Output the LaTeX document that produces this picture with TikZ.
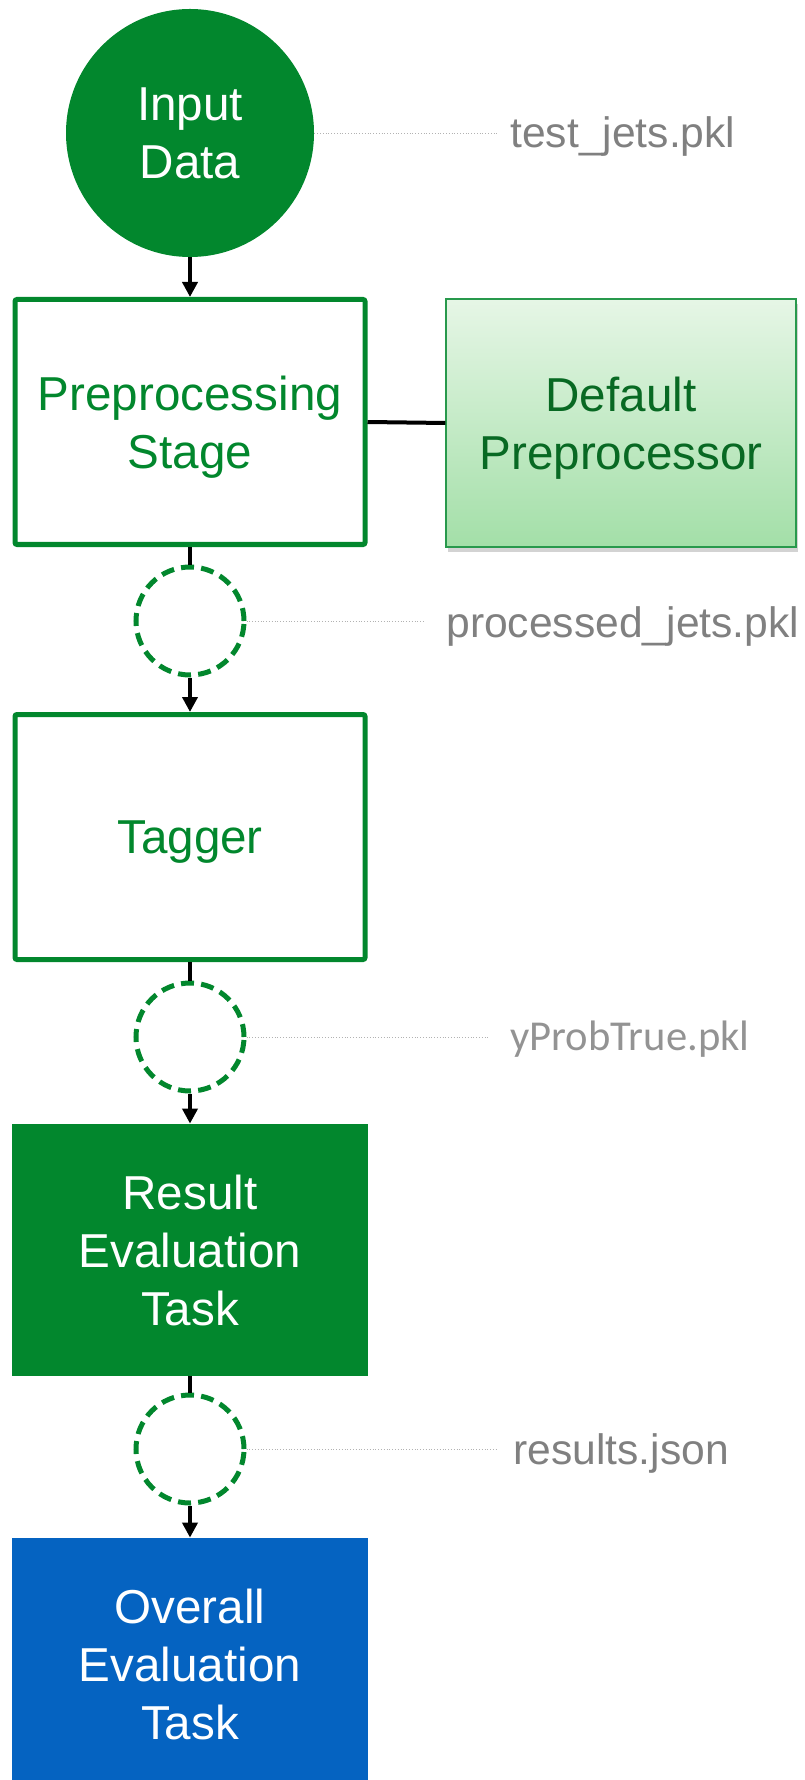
\documentclass[tikz,border=0pt]{standalone}
\usepackage{fontspec}
\setmainfont{Liberation Sans}
\newfontfamily\calfont{Carlito}
\usetikzlibrary{arrows.meta,shadows,positioning}

\definecolor{taskgreen}{RGB}{2,135,45}
\definecolor{taskblue}{RGB}{5,99,193}
\definecolor{darkgreen}{RGB}{8,105,35}
\definecolor{lightgreen}{RGB}{230,246,230}
\definecolor{midgreen}{RGB}{163,223,168}
\definecolor{filegray}{RGB}{128,128,128}

\tikzset{
  bigtext/.style={font=\fontsize{23.8}{29}\selectfont, align=center, text depth=0pt},
  stage/.style={bigtext, draw=taskgreen, line width=2.5pt, rounded corners=1pt, text=taskgreen, minimum width=175pt, minimum height=122.5pt, inner sep=0pt},
  task/.style={bigtext, fill=#1, text=white, minimum width=178pt, minimum height=126pt, inner sep=0pt},
  datafile/.style={circle, draw=taskgreen, line width=2.5pt, dash pattern=on 6.5pt off 3.6pt, minimum size=54pt, inner sep=0pt},
  filename/.style={font=\fontsize{21.3}{25}\selectfont, text=filegray, inner sep=0pt, anchor=base west},
  flow/.style={line width=2pt, -{Triangle[width=7.5pt,length=7.5pt]}},
  link/.style={line width=2pt},
  leader/.style={draw=gray!60, line width=0.4pt, densely dotted}
}

\begin{document}
\begin{tikzpicture}[x=0.5pt, y=-0.5pt]
    \useasboundingbox (0,0) rectangle (804,1780);

    % Input
    \node[circle, fill=taskgreen, text=white, bigtext, minimum size=124pt, inner sep=0pt] (input) at (190,133) {Input\\Data};

    % Stages
    \node[stage] (prep) at (190,422) {Preprocessing\\Stage};
    \node[bigtext, top color=lightgreen, bottom color=midgreen, draw=taskgreen!85, line width=0.6pt, text=darkgreen,
          minimum width=175pt, minimum height=124pt, inner sep=0pt,
          drop shadow={shadow xshift=1pt, shadow yshift=-2.5pt, opacity=0.35}] (defprep) at (621,423) {Default\\Preprocessor};
    \node[stage] (tagger) at (190,837) {Tagger};
    \node[task=taskgreen] (result) at (190,1250) {Result\\Evaluation\\Task};
    \node[task=taskblue] (overall) at (190,1664) {Overall\\Evaluation\\Task};

    % Files
    \node[datafile] (procfile) at (190,621) {};
    \node[datafile] (probfile) at (190,1037) {};
    \node[datafile] (resfile) at (190,1449) {};

    % File names
    \node[filename] (testlbl) at (510,148) {test\_jets.pkl};
    \node[filename] (proclbl) at (446,637) {processed\_jets.pkl};
    \node[filename, font=\calfont\fontsize{21.3}{25}\selectfont, text=filegray!85] (problbl) at (510,1050) {yProbTrue.pkl};
    \node[filename] (reslbl) at (513,1464) {results.json};

    \coordinate (testend) at (498,133);
    \coordinate (procend) at (423,621);
    \coordinate (probend) at (490,1037);
    \coordinate (resend) at (497,1449);

    \draw[leader] (input.east) -- (testend);
    \draw[leader] (procfile.east) -- (procend);
    \draw[leader] (probfile.east) -- (probend);
    \draw[leader] (resfile.east) -- (resend);

    % Flow
    \draw[flow] (input) -- (prep);
    \draw[link] (prep.east) -- (defprep.west);
    \draw[link] (prep) -- (procfile);
    \draw[flow] (procfile) -- (tagger);
    \draw[link] (tagger) -- (probfile);
    \draw[flow] (probfile) -- (result);
    \draw[link] (result) -- (resfile);
    \draw[flow] (resfile) -- (overall);
\end{tikzpicture}
\end{document}
